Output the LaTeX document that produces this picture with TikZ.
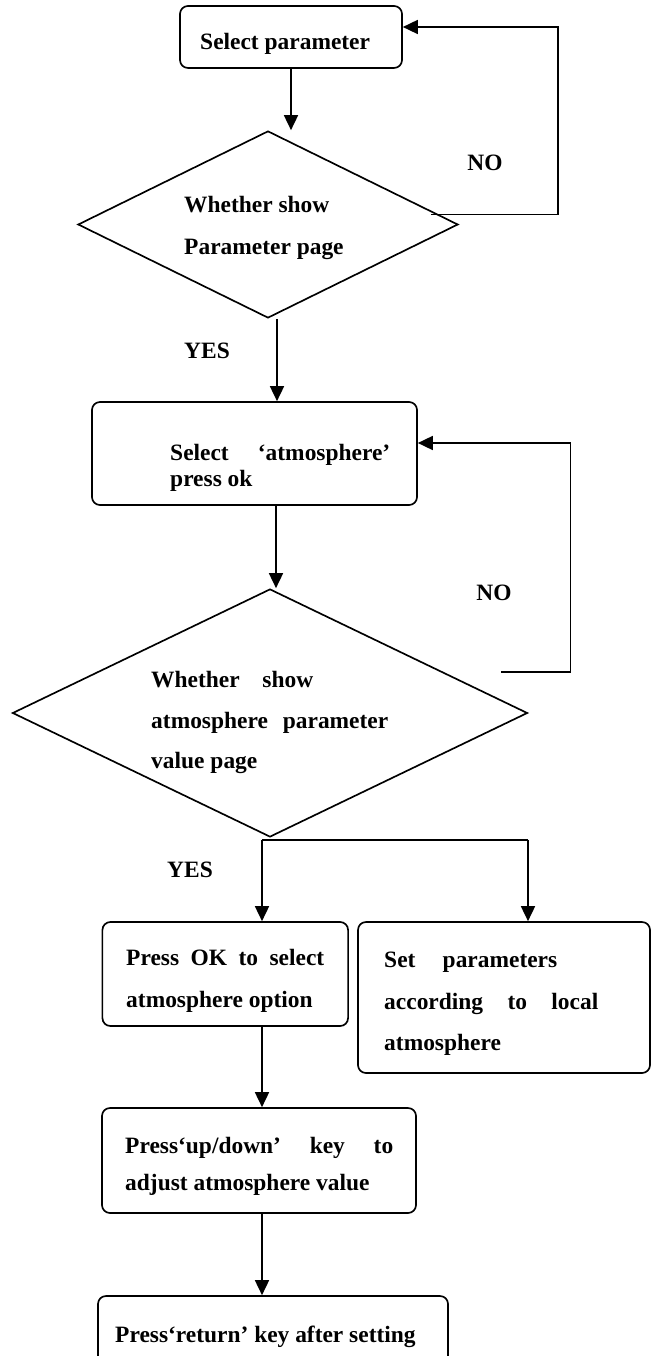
\documentclass[tikz,border=0pt]{standalone}
\usepackage{fontspec}
\setmainfont{Liberation Serif}
\usetikzlibrary{arrows.meta,shapes.geometric,calc,positioning}

\begin{document}
\begin{tikzpicture}[x=0.03cm,y=-0.03cm,
    every node/.style={font=\fontsize{20}{24}\selectfont\bfseries},
    procbox/.style={draw,rounded corners=0.24cm,line width=0.05cm,inner sep=0pt},
    decbox/.style={draw,diamond,line width=0.05cm,inner sep=0pt},
    txt/.style={anchor=base west,inner sep=0pt},
    arr/.style={line width=0.05cm,-{Triangle[width=0.42cm,length=0.45cm]}}]
    \useasboundingbox (0,0) rectangle (651,1356);

    \node[procbox,minimum width=6.66cm,minimum height=1.86cm] (b1) at (291,37) {};
    \node[decbox,minimum width=11.4cm,minimum height=5.61cm] (d1) at (268,224.5) {};
    \node[procbox,minimum width=9.75cm,minimum height=3.09cm] (b2) at (254.5,453.5) {};
    \node[decbox,minimum width=15.45cm,minimum height=7.44cm] (d2) at (270,713) {};
    \node[procbox,minimum width=7.37cm,minimum height=3.12cm] (b3) at (225.25,974) {};
    \node[procbox,minimum width=8.76cm,minimum height=4.53cm] (b4) at (504,997.5) {};
    \node[procbox,minimum width=9.42cm,minimum height=3.15cm] (b5) at (259,1160.5) {};
    \node[procbox,minimum width=10.5cm,minimum height=2.7cm] (b6) at (273,1341) {};

    \node[txt] (b1a) at (200,50) {Select parameter};
    \node[txt] (d1a) at (184,213) {Whether show};
    \node[txt] (d1b) at (184,255) {Parameter page};
    \node[txt] (b2a) at (170,460) {\makebox[6.6cm][s]{Select ‘atmosphere’}};
    \node[txt] (b2b) at (170,486) {press ok};
    \node[txt] (d2a) at (151,687) {\makebox[4.86cm][s]{Whether show}};
    \node[txt] (d2b) at (151,728) {\makebox[7.11cm][s]{atmosphere parameter}};
    \node[txt] (d2c) at (151,768) {value page};
    \node[txt] (b3a) at (126,965) {\makebox[5.94cm][s]{Press OK to select}};
    \node[txt] (b3b) at (126,1007) {atmosphere option};
    \node[txt] (b4a) at (384,967) {\makebox[5.19cm][s]{Set parameters}};
    \node[txt] (b4b) at (384,1009) {\makebox[6.42cm][s]{according to local}};
    \node[txt] (b4c) at (384,1050) {atmosphere};
    \node[txt] (b5a) at (125,1153) {\makebox[8.04cm][s]{Press‘up/down’ key to}};
    \node[txt] (b5b) at (125,1190) {adjust atmosphere value};
    \node[txt] (b6a) at (115,1342) {Press‘return’ key after setting};

    \node (no1) at (485,163) {NO};
    \node (yes1) at (207,351) {YES};
    \node (no2) at (494,593) {NO};
    \node (yes2) at (190,870) {YES};

    \draw[arr] (b1.south) -- (b1.south |- d1.north);
    \draw[arr] ($(d1.east)+(-28,-10)$) -- ++(127,0) |- ($(b1.east)+(0,-10)$);
    \draw[arr] ($(d1.south)+(9,0)$) coordinate (ya) -- (ya |- b2.north);
    \draw[arr] ($(b2.south)+(21.5,0)$) coordinate (yb) -- (yb |- d2.north);
    \draw[arr] ($(d2.east)+(-27,-41)$) -- ++(69,0) |- ($(b2.east)+(0,-10.5)$);
    \coordinate (sp) at ($(d2.south)+(-8,2)$);
    \draw[line width=0.05cm] (sp) -- ++(266,0) coordinate (sq);
    \draw[arr] (sp) -- (sp |- b3.north);
    \draw[arr] (sq) -- (sq |- b4.north);
    \draw[arr] (sp |- b3.south) -- (sp |- b5.north);
    \draw[arr] (sp |- b5.south) -- (sp |- b6.north);
\end{tikzpicture}
\end{document}
